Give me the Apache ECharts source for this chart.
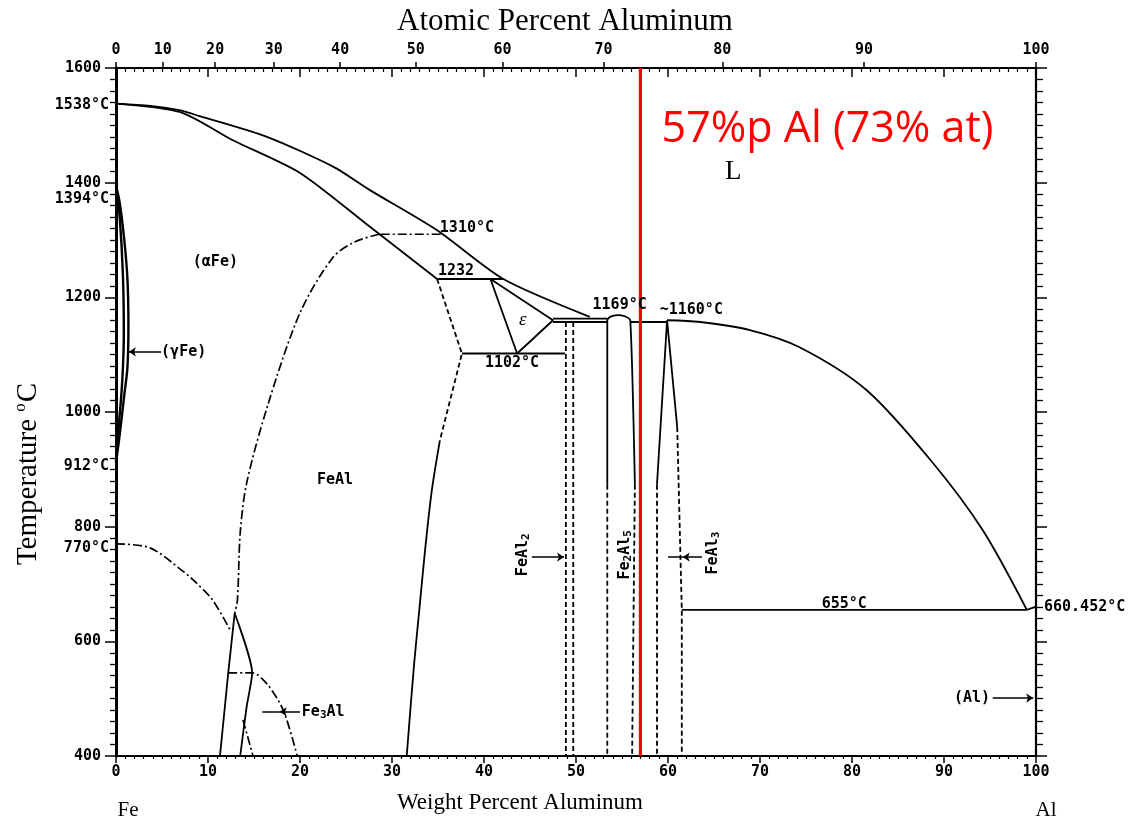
<!DOCTYPE html>
<html>
<head>
<meta charset="utf-8">
<script src="https://cdn.jsdelivr.net/npm/echarts@6/dist/echarts.min.js"></script>
<style>
  html, body { margin: 0; padding: 0; background: #fff; }
  #chart { width: 1140px; height: 816px; }
</style>
</head>
<body>
<div id="chart"></div>
<script>
// ---- axis ticks ----
const wtTickLabels = [0, 10, 20, 30, 40, 50, 60, 70, 80, 90, 100];
const atTickLabels = [0, 10, 20, 30, 40, 50, 60, 70, 80, 90, 100];
const tempTickLabels = [400, 600, 800, 1000, 1200, 1400, 1600];
const landmarkTemps = [1538, 1394, 912, 770];

// ---- composition of interest ----
const markedWt = 57;
const markedAt = 73;

// ---- phase boundaries: [wt% Al, temperature °C] ----
const liquidusFeSide = [[0, 1538], [3.7, 1534], [7.0, 1526], [9.1, 1516], [16.4, 1480], [23.6, 1428], [27.6, 1387], [34.9, 1317], [42.1, 1232], [51.5, 1166]];
const solidusAlphaFe = [[0, 1538], [7.0, 1523], [12.7, 1474], [20.0, 1417], [27.6, 1323], [34.9, 1232]];
const gammaLoopOuter = [[0, 1394], [0.4, 1365], [0.9, 1300], [1.25, 1230], [1.35, 1150], [1.25, 1080], [0.9, 1030], [0.4, 960], [0, 912]];
const gammaLoopInner = [[0, 1394], [0.4, 1340], [0.75, 1240], [0.85, 1140], [0.7, 1060], [0.3, 975], [0, 912]];
const iso1310 = [[35.3, 1310], [28.6, 1310]];
const orderB2 = [[28.6, 1310], [26.0, 1297], [23.6, 1270], [20.0, 1173], [16.5, 1012], [14.2, 876], [13.5, 789], [13.2, 672], [12.9, 649]];
const curieLine = [[0, 770], [3.7, 763], [7.3, 722], [8.4, 707], [10.5, 672], [12.4, 620]];
const iso1232 = [[34.9, 1232], [42.1, 1232]];
const iso1102 = [[37.6, 1102], [48.8, 1102]];
const feAlBoundaryDashed = [[34.9, 1232], [37.6, 1102], [35.2, 950]];
const feAlBoundarySolid = [[35.2, 950], [34.3, 860], [33.6, 760], [33.0, 660], [32.4, 560], [31.6, 400]];
const epsilonField = [[40.7, 1232], [47.5, 1160], [43.6, 1102], [40.7, 1232]];
const iso1163 = [[47.5, 1163], [53.4, 1163]];
const iso1157 = [[47.5, 1157], [53.4, 1157]];
const feAl2Left = [[48.9, 1157], [48.9, 400]];
const feAl2Right = [[49.7, 1157], [49.7, 400]];
const fe2Al5Solid = [[53.4, 873], [53.4, 1160], [53.7, 1166], [54.5, 1169], [55.3, 1167], [55.9, 1160], [56.4, 873]];
const fe2Al5LeftDashed = [[53.4, 873], [53.4, 400]];
const fe2Al5RightDashed = [[56.4, 873], [56.1, 400]];
const eutectic1157 = [[55.9, 1157], [59.9, 1157]];
const feAl3Solid = [[58.8, 873], [59.9, 1160], [61.0, 974]];
const feAl3LeftDashed = [[58.8, 873], [58.8, 400]];
const feAl3RightDashed = [[61.0, 974], [61.5, 655], [61.5, 400]];
const liquidusAlSide = [[59.9, 1160], [63.5, 1157], [68.9, 1143], [74.3, 1113], [81.6, 1038], [88.8, 911], [94.2, 794], [99.0, 655]];
const iso655 = [[61.5, 655], [99.0, 655]];
const alMelting = [[99.0, 655], [100, 660.452]];
const do3Left = [[12.9, 649], [12.2, 545], [11.3, 400]];
const do3Right = [[12.9, 649], [14.8, 545], [14.2, 486], [13.5, 400]];
const do3Order = [[12.2, 545], [14.8, 545], [16.5, 524], [18.2, 479], [19.7, 400]];
const do3Inner = [[13.8, 463], [14.9, 400]];

// ---- pointer arrows: [from, to] ----
const pointerArrows = [
  [[4.9, 1105], [1.4, 1105]],
  [[45.2, 747], [48.7, 747]],
  [[63.7, 747], [61.6, 747]],
  [[20.0, 477], [17.8, 477]],
  [[95.3, 501], [99.7, 501]]
];
const pointerTails = [
  [[61.6, 747], [60.0, 747]],
  [[17.8, 477], [15.9, 477]]
];

const MONO = '"DejaVu Sans Mono", "Liberation Mono", monospace';
const SERIF = '"Liberation Serif", "DejaVu Serif", serif';
const INK = '#000';

// at% <-> wt% for the Fe-Al couple
const M_AL = 26.9815, M_FE = 55.845;
const atToWt = a => a * M_AL / (a * M_AL + (100 - a) * M_FE) * 100;
const wtToAt = w => (w / M_AL) / (w / M_AL + (100 - w) / M_FE) * 100;
const atTickPositions = atTickLabels.map(atToWt);

const solid = { color: INK, width: 1.8, type: 'solid' };
const dashed = { color: INK, width: 1.8, type: [5, 3] };
const dashDot = { color: INK, width: 1.7, type: [9, 3, 2, 3] };

function boundary(data, style, extra) {
  return Object.assign({
    type: 'line', data: data, symbol: 'none', silent: true, animation: false,
    lineStyle: style, clip: false, z: 3
  }, extra || {});
}

const textBase = { fontFamily: MONO, fontWeight: 'bold', fontSize: 15, color: INK, opacity: 1 };
const subRich = {
  sub: { fontFamily: MONO, fontWeight: 'bold', fontSize: 11, color: INK, padding: [7, 0, 0, 0] }
};

function annotation(text, x, y, opts) {
  opts = opts || {};
  return {
    value: [x, y],
    label: Object.assign({}, textBase, {
      show: true,
      formatter: text,
      position: opts.position || 'inside',
      distance: opts.distance == null ? 0 : opts.distance,
      rotate: opts.rotate || 0,
      offset: opts.offset || [0, 0],
      rich: subRich
    }, opts.style || {})
  };
}

const labelData = [
  annotation('(αFe)', 10.8, 1262),
  annotation('FeAl', 23.8, 881),
  annotation('(γFe)', 4.9, 1105, { position: 'right' }),
  annotation('1310°C', 35.2, 1321, { position: 'right' }),
  annotation('1232', 35.0, 1246, { position: 'right' }),
  annotation('1102°C', 40.1, 1085, { position: 'right' }),
  annotation('1169°C', 51.8, 1187, { position: 'right' }),
  annotation('~1160°C', 59.1, 1178, { position: 'right' }),
  annotation('655°C', 76.7, 665, { position: 'right' }),
  annotation('660.452°C', 100, 660.452, { position: 'right', distance: 8 }),
  annotation('Fe{sub|3}Al', 20.2, 477, { position: 'right' }),
  annotation('(Al)', 95.0, 501, { position: 'left' }),
  annotation('FeAl{sub|2}', 44.2, 751, { rotate: 90 }),
  annotation('Fe{sub|2}Al{sub|5}', 55.3, 751, { rotate: 90 }),
  annotation('FeAl{sub|3}', 64.9, 754, { rotate: 90 }),
  annotation('ε', 44.2, 1160, { style: { fontFamily: SERIF, fontStyle: 'italic', fontWeight: 'normal', fontSize: 19 } }),
  annotation('L', 67.1, 1419, { style: { fontFamily: SERIF, fontWeight: 'normal', fontSize: 27 } }),
  annotation(markedWt + '%p Al (' + markedAt + '% at)', 59.3, 1492, {
    position: 'right',
    style: { fontFamily: '"Open Sans", "Noto Sans", sans-serif', fontWeight: 'normal', fontSize: 43, color: '#ff0000' }
  }),
  annotation('Fe', 0, 400, { position: 'bottom', distance: 44, offset: [12, 0], style: { fontFamily: SERIF, fontSize: 21, fontWeight: 'normal' } }),
  annotation('Al', 100, 400, { position: 'bottom', distance: 44, offset: [10, 0], style: { fontFamily: SERIF, fontSize: 21, fontWeight: 'normal' } })
];

// temperature landmarks on the Fe axis
const landmarkOffsets = { 1538: 2, 1394: 13, 912: 4, 770: 4 };
landmarkTemps.forEach(t => {
  labelData.push(annotation(t + '°C', 0, t, { position: 'left', distance: 7, offset: [0, landmarkOffsets[t]] }));
});

const chart = echarts.init(document.getElementById('chart'), null, { renderer: 'canvas' });

const axisLineStyle = { color: INK, width: 2.2 };
const tickLabelStyle = { fontFamily: MONO, fontWeight: 'bold', fontSize: 15, color: INK };

chart.setOption({
  backgroundColor: '#fff',
  animation: false,
  grid: { left: 116, right: 104, top: 68, bottom: 60, containLabel: false },
  xAxis: [
    {
      type: 'value', position: 'bottom', min: 0, max: 100, interval: 10,
      axisLine: { show: true, onZero: false, lineStyle: axisLineStyle },
      axisTick: { show: true, length: 7, lineStyle: { color: INK, width: 1.5 } },
      minorTick: { show: true, splitNumber: 10, length: 3, lineStyle: { color: INK, width: 1.2 } },
      axisLabel: Object.assign({ margin: 9, customValues: wtTickLabels, formatter: v => String(v) }, tickLabelStyle),
      splitLine: { show: false }
    },
    {
      type: 'value', position: 'top', min: 0, max: 100, interval: 10,
      axisLine: { show: true, onZero: false, lineStyle: axisLineStyle },
      axisTick: { show: true, inside: true, length: 9, lineStyle: { color: INK, width: 1.5 } },
      minorTick: { show: true, splitNumber: 10, length: 4, lineStyle: { color: INK, width: 1.2 } },
      axisLabel: { show: false },
      splitLine: { show: false }
    },
    {
      type: 'value', position: 'top', min: 0, max: 100,
      axisLine: { show: false, onZero: false },
      axisTick: { show: true, length: 6, customValues: atTickPositions, lineStyle: { color: INK, width: 1.5 } },
      axisLabel: Object.assign({
        margin: 10,
        customValues: atTickPositions,
        formatter: v => String(Math.round(wtToAt(v)))
      }, tickLabelStyle),
      splitLine: { show: false }
    }
  ],
  yAxis: [
    {
      type: 'value', position: 'left', min: 400, max: 1600, interval: 200,
      axisLine: { show: true, onZero: false, lineStyle: { color: INK, width: 3 } },
      axisTick: { show: true, length: 11, customValues: tempTickLabels, lineStyle: { color: INK, width: 1.5 } },
      minorTick: { show: true, splitNumber: 10, length: 6, lineStyle: { color: INK, width: 1.3 } },
      axisLabel: Object.assign({ margin: 15, customValues: tempTickLabels, formatter: v => String(v) }, tickLabelStyle),
      splitLine: { show: false }
    },
    {
      type: 'value', position: 'right', min: 400, max: 1600, interval: 200,
      axisLine: { show: true, onZero: false, lineStyle: axisLineStyle },
      axisTick: { show: true, length: 11, lineStyle: { color: INK, width: 1.5 } },
      minorTick: { show: true, splitNumber: 10, length: 7, lineStyle: { color: INK, width: 1.3 } },
      axisLabel: { show: false },
      splitLine: { show: false }
    }
  ],
  graphic: [
    { type: 'text', left: 397, top: 6, silent: true,
      style: { text: 'Atomic Percent Aluminum', font: '31px "Liberation Serif", serif', fill: INK } },
    { type: 'text', left: 397, top: 791, silent: true,
      style: { text: 'Weight Percent Aluminum', font: '23px "Liberation Serif", serif', fill: INK } },
    { type: 'text', x: 28, y: 474, rotation: Math.PI / 2, silent: true,
      style: {
        text: 'Temperature {s|o}C', fill: INK, align: 'center', verticalAlign: 'middle',
        font: '29px "Liberation Serif", serif',
        rich: { s: { font: '17px "Liberation Serif", serif', padding: [0, 1, 14, 0], fill: INK } }
      } }
  ],
  series: [
    boundary(liquidusFeSide, solid, { smooth: 0.25 }),
    boundary(solidusAlphaFe, solid, { smooth: 0.25 }),
    boundary(gammaLoopOuter, Object.assign({}, solid, { width: 2.4 }), { smooth: 0.4 }),
    boundary(gammaLoopInner, Object.assign({}, solid, { width: 2.4 }), { smooth: 0.4 }),
    boundary(iso1310, dashDot),
    boundary(orderB2, dashDot, { smooth: 0.3 }),
    boundary(curieLine, dashDot, { smooth: 0.3 }),
    boundary(iso1232, solid),
    boundary(iso1102, solid),
    boundary(feAlBoundaryDashed, dashed),
    boundary(feAlBoundarySolid, solid, { smooth: 0.3 }),
    boundary(epsilonField, solid),
    boundary(iso1163, solid),
    boundary(iso1157, solid),
    boundary(feAl2Left, dashed),
    boundary(feAl2Right, dashed),
    boundary(fe2Al5Solid, solid, { smooth: 0.2 }),
    boundary(fe2Al5LeftDashed, dashed),
    boundary(fe2Al5RightDashed, dashed),
    boundary(eutectic1157, solid),
    boundary(feAl3Solid, solid),
    boundary(feAl3LeftDashed, dashed),
    boundary(feAl3RightDashed, dashed),
    boundary(liquidusAlSide, solid, { smooth: 0.3 }),
    boundary(iso655, solid),
    boundary(alMelting, solid),
    boundary(do3Left, solid),
    boundary(do3Right, solid, { smooth: 0.2 }),
    boundary(do3Order, dashDot, { smooth: 0.3 }),
    boundary(do3Inner, dashDot),
    {
      type: 'lines', coordinateSystem: 'cartesian2d', silent: true, animation: false, z: 4,
      symbol: ['none', 'arrow'], symbolSize: 7,
      lineStyle: { color: INK, width: 1.5, curveness: 0, opacity: 1 },
      data: pointerArrows.map(c => ({ coords: c }))
    },
    {
      type: 'lines', coordinateSystem: 'cartesian2d', silent: true, animation: false, z: 4,
      symbol: ['none', 'none'],
      lineStyle: { color: INK, width: 1.5, curveness: 0, opacity: 1 },
      data: pointerTails.map(c => ({ coords: c }))
    },
    boundary([[markedWt, 400], [markedWt, 1600]], { color: '#ff0000', width: 3.2, type: 'solid' }, { z: 6 }),
    {
      type: 'scatter', symbolSize: 0, silent: true, animation: false, clip: false, z: 7,
      itemStyle: { color: INK, opacity: 1 },
      emphasis: { disabled: true },
      data: labelData
    }
  ]
});
</script>
</body>
</html>
